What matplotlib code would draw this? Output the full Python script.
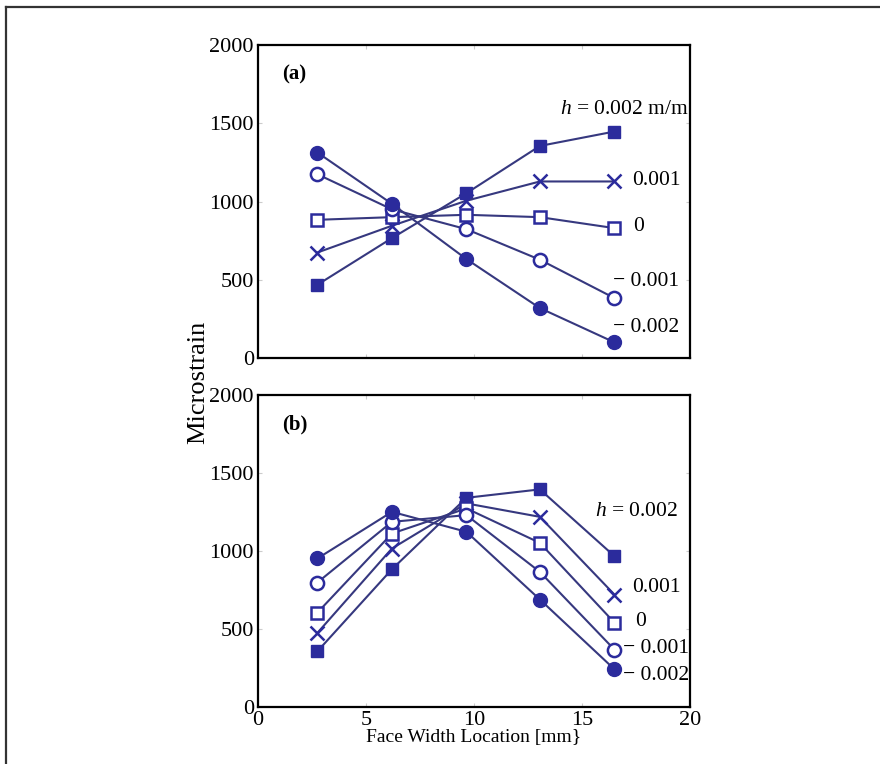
import matplotlib.pyplot as plt
from matplotlib.lines import Line2D

plt.rcParams['font.family'] = ['Liberation Serif', 'DejaVu Serif']
plt.rcParams['mathtext.fontset'] = 'custom'
plt.rcParams['mathtext.rm'] = 'Liberation Serif'
plt.rcParams['mathtext.it'] = 'Liberation Serif:italic'

# face width positions of the gauges [mm]
x = [2.75, 6.2, 9.65, 13.05, 16.5]

# (a) microstrain for each misalignment h
a_p002 = [468, 766, 1053, 1355, 1447]
a_p001 = [674, 845, 1005, 1128, 1128]
a_0 = [883, 900, 915, 900, 830]
a_m001 = [1174, 950, 823, 628, 383]
a_m002 = [1313, 985, 632, 319, 100]

# (b)
b_p002 = [357, 883, 1341, 1395, 967]
b_p001 = [475, 1016, 1305, 1219, 721]
b_0 = [605, 1112, 1273, 1052, 541]
b_m001 = [798, 1187, 1230, 866, 368]
b_m002 = [952, 1251, 1123, 689, 242]

a_labels = ['$h$ = 0.002 m/m', '0.001', '0', '\u2212 0.001', '\u2212 0.002']
b_labels = ['$h$ = 0.002', '0.001', '0', '\u2212 0.001', '\u2212 0.002']

mcol = '#2b2b9c'
lcol = '#36387f'
styles = [
    dict(marker='s', mfc=mcol, mec=mcol, ms=9),
    dict(marker='x', mfc='none', mec=mcol, ms=10, mew=1.8),
    dict(marker='s', mfc='white', mec=mcol, ms=8.5, mew=1.8),
    dict(marker='o', mfc='white', mec=mcol, ms=9.5, mew=1.8),
    dict(marker='o', mfc=mcol, mec=mcol, ms=10),
]

fig = plt.figure(figsize=(8.8, 7.64), dpi=100)
W, H = 880, 764
ax_a = fig.add_axes([258 / W, 1 - 358 / H, 432 / W, 313 / H])
ax_b = fig.add_axes([258 / W, 1 - 707 / H, 432 / W, 312 / H])


def draw(ax, series):
    for ys, st in zip(series, styles):
        ax.plot(x, ys, color=lcol, lw=1.5, **st)
    ax.set_xlim(0, 20)
    ax.set_ylim(0, 2000)
    ax.set_yticks([0, 500, 1000, 1500, 2000])
    ax.set_xticks([0, 5, 10, 15, 20])
    ax.tick_params(direction='in', length=3, color='#cccccc',
                   labelsize=16, pad=3, top=True, right=True)
    for s in ax.spines.values():
        s.set_linewidth(1.6)


draw(ax_a, [a_p002, a_p001, a_0, a_m001, a_m002])
draw(ax_b, [b_p002, b_p001, b_0, b_m001, b_m002])
ax_a.tick_params(labelbottom=False)

# curve labels
a_pos = [(14.0, 1585), (17.3, 1137), (17.36, 843), (16.43, 486), (16.43, 192)]
b_pos = [(15.6, 1250), (17.3, 763), (17.45, 545), (16.9, 372), (16.9, 205)]
for ax, labels, pos in [(ax_a, a_labels, a_pos), (ax_b, b_labels, b_pos)]:
    for t, (tx, ty) in zip(labels, pos):
        ax.text(tx, ty, t, fontsize=15.5, va='center', ha='left', clip_on=False)

ax_a.text(0.055, 0.905, '(a)', transform=ax_a.transAxes, fontsize=15,
          fontweight='bold', va='center')
ax_b.text(0.055, 0.905, '(b)', transform=ax_b.transAxes, fontsize=15,
          fontweight='bold', va='center')

ax_b.set_xlabel('Face Width Location [mm}', fontsize=14, labelpad=-1)
fig.text(198 / W, 1 - 382 / H, 'Microstrain', rotation=90, fontsize=19,
         ha='center', va='center')

# frame line along the top and left edge
fig.add_artist(Line2D([5.5 / W, 5.5 / W], [0, 1 - 7 / H], color='#333333',
                      lw=1.6, transform=fig.transFigure))
fig.add_artist(Line2D([5.5 / W, 1], [1 - 7 / H, 1 - 7 / H], color='#333333',
                      lw=1.6, transform=fig.transFigure))

fig.savefig('out.png', dpi=100)
